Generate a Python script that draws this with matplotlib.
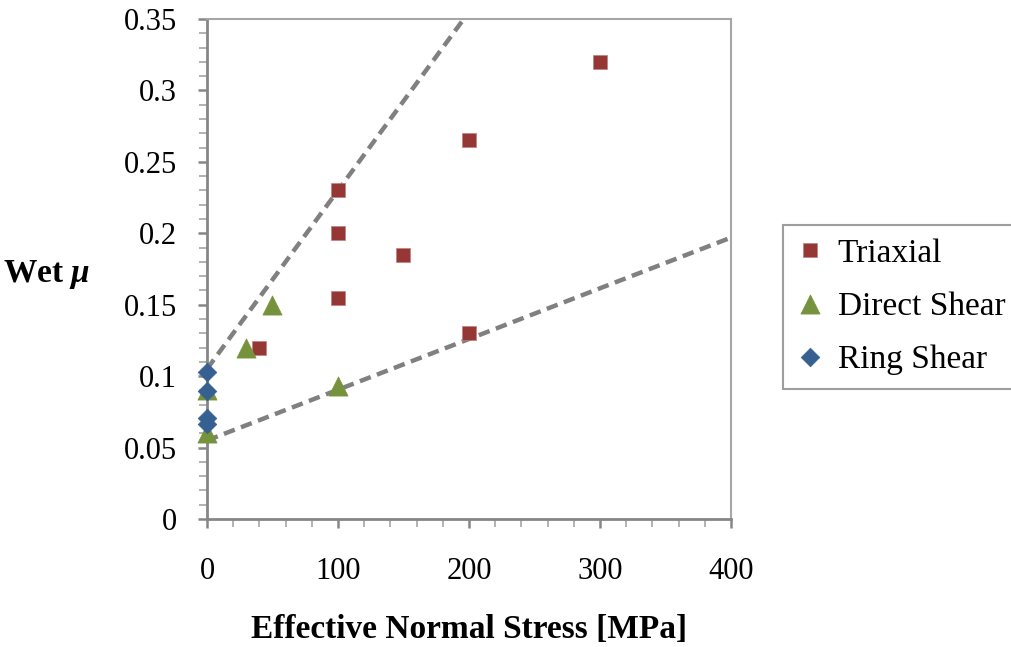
import matplotlib
matplotlib.use("Agg")
import matplotlib.pyplot as plt
from matplotlib.ticker import MultipleLocator

# Data
tri_x = [40, 100, 100, 100, 150, 200, 200, 300]
tri_y = [0.12, 0.23, 0.20, 0.155, 0.185, 0.265, 0.13, 0.32]
ds_x = [0, 0, 30, 50, 100]
ds_y = [0.06, 0.09, 0.12, 0.15, 0.093]
rs_x = [0, 0, 0, 0]
rs_y = [0.103, 0.0896, 0.071, 0.0665]
upper_x = [0, 196]
upper_y = [0.105, 0.35]
lower_x = [0, 400]
lower_y = [0.055, 0.197]
xticks = [0, 100, 200, 300, 400]
yticks = [0, 0.05, 0.1, 0.15, 0.2, 0.25, 0.3, 0.35]
ytick_labels = ['0', '0.05', '0.1', '0.15', '0.2', '0.25', '0.3', '0.35']

plt.rcParams['font.family'] = ['Liberation Serif', 'DejaVu Serif']
plt.rcParams['mathtext.fontset'] = 'custom'
plt.rcParams['mathtext.it'] = 'Liberation Serif:italic:bold'

fig = plt.figure(figsize=(10.12, 6.47), dpi=100)
ax = fig.add_axes([0.2045, 0.1978, 0.5178, 0.7728])

ax.plot(upper_x, upper_y, color='#808080', lw=3.2, ls=(0, (2.6, 1.5)), zorder=2)
ax.plot(lower_x, lower_y, color='#808080', lw=3.2, ls=(0, (2.6, 1.5)), zorder=2)

ax.scatter(tri_x, tri_y, marker='s', s=105, color='#953735', edgecolors='#c08080', linewidths=0.5, label='Triaxial', zorder=3)
ax.scatter(ds_x, ds_y, marker='^', s=190, color='#76923c', edgecolors='#76923c', linewidths=0.5, label='Direct Shear', zorder=3, clip_on=False)
ax.scatter(rs_x, rs_y, marker='D', s=90, color='#366092', edgecolors='#366092', linewidths=0.5, label='Ring Shear', zorder=4, clip_on=False)

ax.set_xlim(0, 400)
ax.set_ylim(0, 0.35)
ax.set_xticks(xticks)
ax.xaxis.set_minor_locator(MultipleLocator(20))
ax.set_yticks(yticks)
ax.set_yticklabels(ytick_labels)
ax.yaxis.set_minor_locator(MultipleLocator(0.01))

ax.tick_params(axis='both', which='major', direction='out', length=6.5, width=1.8, color='#868686', labelsize=22)
ax.tick_params(axis='both', which='minor', direction='out', length=6, width=1.2, color='#a6a6a6')
ax.tick_params(axis='x', which='major', pad=21)
ax.tick_params(axis='y', which='major', pad=15)

for side in ['left', 'bottom']:
    ax.spines[side].set_color('#868686')
    ax.spines[side].set_linewidth(2)
for side in ['top', 'right']:
    ax.spines[side].set_color('#a6a6a6')
    ax.spines[side].set_linewidth(1.5)

ax.set_xlabel('Effective Normal Stress [MPa]', fontsize=24, fontweight='bold', labelpad=20)
fig.text(0.003, 0.575, r'Wet $\mu$', fontsize=24, fontweight='bold', va='center', ha='left')

leg = ax.legend(loc='center left', bbox_to_anchor=(1.099, 0.424), borderaxespad=0,
                frameon=True, fancybox=False,
                fontsize=24, handletextpad=0.45, labelspacing=0.68, borderpad=0.4,
                markerscale=1.0, edgecolor='#868686', scatteryoffsets=[0.5], handlelength=0.8)
leg.get_frame().set_linewidth(1.5)

fig.savefig('out.png', dpi=100)
